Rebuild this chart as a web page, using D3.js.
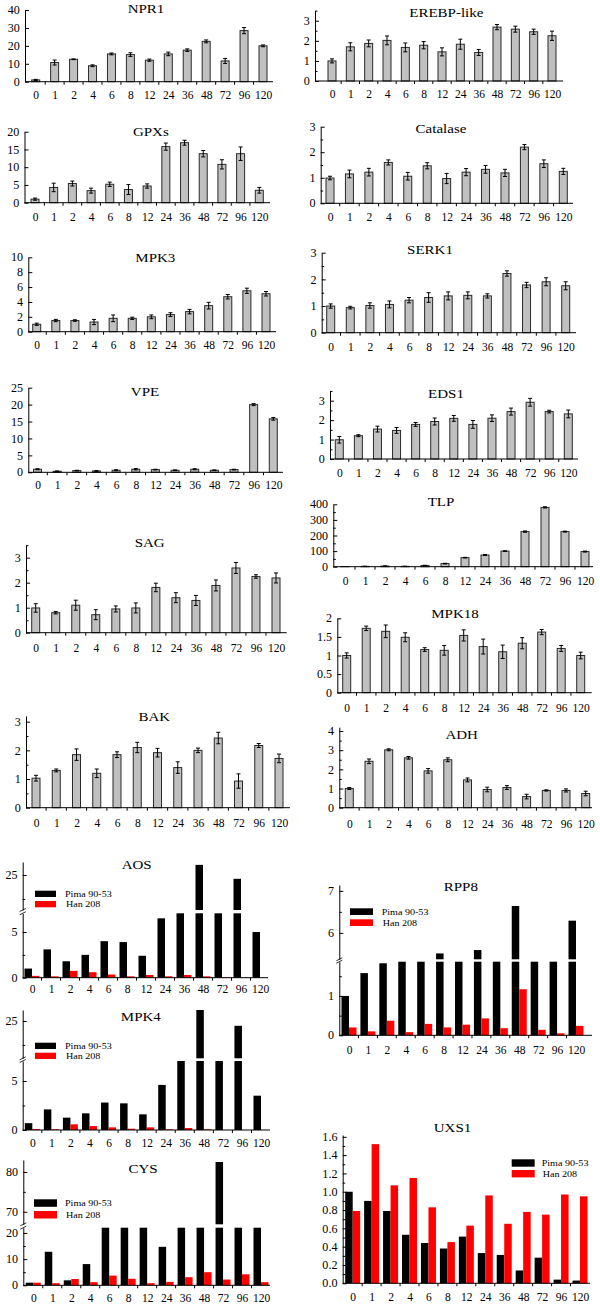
<!DOCTYPE html>
<html>
<head>
<meta charset="utf-8">
<script src="https://cdn.jsdelivr.net/npm/d3@7"></script>
<style>
body { margin: 0; background: #fff; }
text { font-family: "Liberation Serif", "Times New Roman", serif; fill: #000; }
</style>
</head>
<body>
<svg id="fig" width="600" height="1305"></svg>
<script>
// hours after inoculation
var hours = ["0", "1", "2", "4", "6", "8", "12", "24", "36", "48", "72", "96", "120"];

// relative expression (grey bar panels) and their error bars
var npr1 = [1, 10.7, 12.5, 8.9, 15.5, 15.1, 12, 15.5, 17.6, 22.5, 11.6, 28.5, 20];
var npr1Err = [0.3, 1.4, 0.2, 0.5, 0.5, 1.0, 0.6, 1.0, 0.7, 0.8, 1.4, 1.7, 0.5];
var gpxs = [1.0, 4.3, 5.4, 3.4, 5.2, 3.7, 4.7, 15.8, 16.9, 13.8, 10.8, 13.8, 3.5];
var gpxsErr = [0.3, 1.2, 0.7, 0.7, 0.6, 1.4, 0.6, 1.0, 0.7, 0.9, 1.3, 1.9, 0.8];
var mpk3 = [1.0, 1.5, 1.5, 1.3, 1.8, 1.8, 2.0, 2.3, 2.7, 3.5, 4.7, 5.5, 5.1];
var mpk3Err = [0.15, 0.15, 0.1, 0.35, 0.45, 0.15, 0.25, 0.25, 0.3, 0.45, 0.3, 0.35, 0.3];
var vpe = [0.9, 0.3, 0.5, 0.4, 0.6, 0.9, 0.8, 0.6, 0.9, 0.6, 0.8, 20, 15.8];
var vpeErr = [0.15, 0.1, 0.1, 0.1, 0.15, 0.2, 0.1, 0.1, 0.15, 0.1, 0.1, 0.3, 0.4];
var sag = [0.99, 0.8, 1.1, 0.72, 0.95, 0.99, 1.81, 1.4, 1.29, 1.89, 2.59, 2.25, 2.19];
var sagErr = [0.17, 0.05, 0.2, 0.2, 0.12, 0.2, 0.17, 0.2, 0.2, 0.22, 0.22, 0.07, 0.2];
var bak = [1.03, 1.3, 1.85, 1.2, 1.85, 2.1, 1.92, 1.4, 2.0, 2.43, 0.93, 2.17, 1.72];
var bakErr = [0.1, 0.05, 0.2, 0.15, 0.1, 0.18, 0.15, 0.2, 0.08, 0.2, 0.25, 0.07, 0.15];
var erebp = [1.0, 1.7, 1.87, 2.02, 1.67, 1.78, 1.45, 1.83, 1.42, 2.68, 2.58, 2.45, 2.25];
var erebpErr = [0.1, 0.2, 0.17, 0.22, 0.22, 0.18, 0.2, 0.25, 0.15, 0.13, 0.15, 0.13, 0.23];
var catalase = [0.99, 1.15, 1.22, 1.6, 1.06, 1.47, 0.97, 1.22, 1.33, 1.19, 2.2, 1.55, 1.25];
var catalaseErr = [0.07, 0.15, 0.15, 0.1, 0.15, 0.12, 0.2, 0.14, 0.15, 0.14, 0.1, 0.15, 0.12];
var serk1 = [1.0, 0.94, 1.02, 1.06, 1.22, 1.32, 1.38, 1.4, 1.38, 2.22, 1.79, 1.91, 1.76];
var serk1Err = [0.08, 0.05, 0.1, 0.13, 0.1, 0.18, 0.15, 0.13, 0.08, 0.1, 0.1, 0.15, 0.15];
var eds1 = [0.99, 1.2, 1.54, 1.47, 1.78, 1.93, 2.09, 1.78, 2.1, 2.44, 2.92, 2.44, 2.32];
var eds1Err = [0.17, 0.05, 0.15, 0.15, 0.1, 0.18, 0.15, 0.2, 0.17, 0.18, 0.2, 0.07, 0.2];
var tlp = [1, 2, 4, 2, 8, 20, 58, 75, 100, 225, 380, 225, 97];
var tlpErr = [0, 1, 1, 1, 1, 2, 2, 3, 2, 4, 4, 3, 3];
var mpk18 = [1.0, 1.73, 1.65, 1.49, 1.16, 1.14, 1.54, 1.24, 1.1, 1.33, 1.63, 1.19, 1.0];
var mpk18Err = [0.07, 0.06, 0.17, 0.12, 0.05, 0.13, 0.15, 0.2, 0.18, 0.15, 0.07, 0.08, 0.09];
var adh = [1.0, 2.42, 3.02, 2.6, 1.92, 2.5, 1.45, 0.95, 1.05, 0.58, 0.9, 0.9, 0.74];
var adhErr = [0.05, 0.12, 0.05, 0.07, 0.12, 0.1, 0.1, 0.12, 0.1, 0.12, 0.03, 0.08, 0.12];

// two cultivars (black / red panels)
var aosPima = [1.0, 3.1, 1.8, 2.5, 4.0, 3.9, 2.4, 6.5, 12, 27.1, 12, 24.2, 5.0];
var aosHan = [0.2, 0.15, 0.75, 0.6, 0.35, 0.15, 0.3, 0.15, 0.3, 0.15, 0.05, 0.03, 0];
var mpk4Pima = [0.7, 2.1, 1.26, 1.7, 2.8, 2.72, 1.6, 4.6, 12, 27.3, 12, 24.0, 3.5];
var mpk4Han = [0.1, 0.07, 0.58, 0.4, 0.27, 0.13, 0.27, 0.07, 0.2, 0.07, 0, 0, 0];
var cysPima = [1.0, 12.8, 1.9, 8.1, 40, 40, 40, 14.7, 40, 40, 82.5, 40, 40];
var cysHan = [1.0, 0.8, 2.4, 1.2, 3.7, 2.5, 0.8, 1.3, 3.1, 5.0, 2.2, 4.2, 1.2];
var rpp8Pima = [1.0, 1.58, 1.83, 3, 3, 5.51, 3, 5.59, 3, 6.64, 3, 3, 6.29];
var rpp8Han = [0.2, 0.1, 0.37, 0.08, 0.29, 0.2, 0.27, 0.43, 0.18, 1.17, 0.14, 0.05, 0.24];
var uxs1Pima = [1.0, 0.9, 0.79, 0.53, 0.44, 0.38, 0.51, 0.33, 0.31, 0.14, 0.28, 0.04, 0.03];
var uxs1Han = [0.79, 1.52, 1.07, 1.15, 0.83, 0.45, 0.63, 0.96, 0.65, 0.78, 0.75, 0.97, 0.95];

var cultivars = ["Pima 90-53", "Han 208"];
var cultivarColors = ["#000000", "#ff0000"];

var serif = '"Liberation Serif","Times New Roman",serif';
var svg = d3.select("#fig");

var half = [0.5, 1.5, 2.5, 3.5];

var greyPanels = [
  {title: "NPR1", v: npr1, e: npr1Err, ax: 25, xEnd: 273, c0: 35.7, c1: 263, y0: 81.7, ymax: 40, yPx: 10, top: 40, ticks: [0, 10, 20, 30, 40], minor: [], tx: 146, ty: 12.7, ly: 95},
  {title: "GPXs", v: gpxs, e: gpxsErr, ax: 24.5, xEnd: 270, c0: 35, c1: 259.3, y0: 202.7, ymax: 20, yPx: 131.7, top: 20, ticks: [0, 5, 10, 15, 20], minor: [], tx: 150.8, ty: 136.3, ly: 217},
  {title: "MPK3", v: mpk3, e: mpk3Err, ax: 28.3, xEnd: 276, c0: 36.7, c1: 266, y0: 331.7, ymax: 10, yPx: 257.3, top: 10, ticks: [0, 2, 4, 6, 8, 10], minor: [], tx: 155.3, ty: 262, ly: 345},
  {title: "VPE", v: vpe, e: vpeErr, ax: 28.3, xEnd: 283, c0: 37.5, c1: 273.3, y0: 472.3, ymax: 25, yPx: 387.7, top: 25, ticks: [0, 5, 10, 15, 20, 25], minor: [], tx: 145, ty: 396, ly: 485},
  {title: "SAG", v: sag, e: sagErr, ax: 26, xEnd: 286.7, c0: 35.7, c1: 276, y0: 632.7, ymax: 3, yPx: 557.7, top: 3.5, ticks: [0, 1, 2, 3], minor: half, tx: 149.7, ty: 547.3, ly: 648.3},
  {title: "BAK", v: bak, e: bakErr, ax: 26, xEnd: 290, c0: 36, c1: 279, y0: 807.7, ymax: 3, yPx: 721.7, top: 3.2, ticks: [0, 1, 2, 3], minor: [0.5, 1.5, 2.5], tx: 154.3, ty: 720.7, ly: 822.7},
  {title: "EREBP-like", v: erebp, e: erebpErr, ax: 315, xEnd: 563, c0: 332, c1: 552, y0: 81, ymax: 3, yPx: 20.7, top: 3.5, ticks: [0, 1, 2, 3], minor: half, tx: 446.3, ty: 17.3, ly: 94},
  {title: "Catalase", v: catalase, e: catalaseErr, ax: 320.7, xEnd: 573, c0: 330, c1: 563.3, y0: 203.3, ymax: 3, yPx: 126.7, top: 3, ticks: [0, 1, 2, 3], minor: [0.5, 1.5, 2.5], tx: 441, ty: 133.3, ly: 216.7},
  {title: "SERK1", v: serk1, e: serk1Err, ax: 321.7, xEnd: 576, c0: 330.7, c1: 565.7, y0: 332.7, ymax: 3, yPx: 252.7, top: 3, ticks: [0, 1, 2, 3], minor: [0.5, 1.5, 2.5], tx: 430, ty: 254.3, ly: 346.7},
  {title: "EDS1", v: eds1, e: eds1Err, ax: 330, xEnd: 578, c0: 339.3, c1: 568.3, y0: 459, ymax: 3, yPx: 400.7, top: 3.5, ticks: [0, 1, 2, 3], minor: half, tx: 446, ty: 397.7, ly: 473},
  {title: "TLP", v: tlp, e: tlpErr, ax: 333.3, xEnd: 593, c0: 345, c1: 585, y0: 566.7, ymax: 400, yPx: 504.3, top: 400, ticks: [0, 100, 200, 300, 400], minor: [50, 150, 250, 350], tx: 441, ty: 506, ly: 581},
  {title: "MPK18", v: mpk18, e: mpk18Err, ax: 337.3, xEnd: 591.7, c0: 346.7, c1: 580.7, y0: 692.7, ymax: 2, yPx: 618.3, top: 2, ticks: [0, 0.5, 1, 1.5, 2], minor: [], tx: 455, ty: 618.3, ly: 708.3},
  {title: "ADH", v: adh, e: adhErr, ax: 339.3, xEnd: 592, c0: 349.3, c1: 585.7, y0: 807.7, ymax: 4, yPx: 731, top: 4.2, ticks: [0, 1, 2, 3, 4], minor: half, tx: 461.7, ty: 739.3, ly: 824.3}
];

var pairPanels = [
  {title: "AOS", a: aosPima, b: aosHan, ax: 22.7, xEnd: 268, c0: 32, c1: 260, tx: 136.7, ty: 869.3, ly: 989.3,
   low: {dom: [0, 7.05], rng: [977.7, 913.3], ticks: [0, 5], minor: [2.5]},
   up: {dom: [17.7, 27.7], rng: [910, 862], ticks: [25], minor: [20]},
   leg: {x: 35, y: 890.7, w: 21, h: 6.3, gap: 10.3, tx: 65}},
  {title: "MPK4", a: mpk4Pima, b: mpk4Han, ax: 22.7, xEnd: 270, c0: 32.3, c1: 261, tx: 140.8, ty: 1020.7, ly: 1143,
   low: {dom: [0, 7.04], rng: [1130, 1061], ticks: [0, 5], minor: [2.5]},
   up: {dom: [17.2, 27.3], rng: [1058.3, 1010], ticks: [25], minor: [20]},
   leg: {x: 35, y: 1042.7, w: 21, h: 6.3, gap: 10, tx: 65}},
  {title: "CYS", a: cysPima, b: cysHan, ax: 23.3, xEnd: 270, c0: 33.3, c1: 261, tx: 143, ty: 1173.3, ly: 1298,
   low: {dom: [0, 22], rng: [1285.3, 1227.7], ticks: [0, 10, 20], minor: [5, 15]},
   up: {dom: [66.85, 83], rng: [1224.3, 1160], ticks: [70, 80], minor: [75]},
   leg: {x: 34, y: 1199.3, w: 23, h: 7.5, gap: 11.7, tx: 65}},
  {title: "RPP8", a: rpp8Pima, b: rpp8Han, ax: 339.3, xEnd: 592, c0: 349, c1: 576, tx: 460.8, ty: 890.7, ly: 1050,
   low: {dom: [0, 1.87], rng: [1035.3, 961.7], ticks: [0, 1], minor: [0.5, 1.5]},
   up: {dom: [5.37, 7.14], rng: [959.3, 885], ticks: [6, 7], minor: [6.5]},
   leg: {x: 350, y: 908.3, w: 23, h: 6.7, gap: 11, tx: 381.7}},
  {title: "UXS1", a: uxs1Pima, b: uxs1Han, ax: 342.7, xEnd: 590, c0: 352.7, c1: 580, tx: 452.5, ty: 1132.3, ly: 1297, fmt: ".1f",
   low: {dom: [0, 1.62], rng: [1283.3, 1135], ticks: [0, 0.2, 0.4, 0.6, 0.8, 1.0, 1.2, 1.4, 1.6], minor: [0.1, 0.3, 0.5, 0.7, 0.9, 1.1, 1.3, 1.5]},
   up: null,
   leg: {x: 511.7, y: 1159.3, w: 23, h: 7.4, gap: 10.7, tx: 541.7}}
];

function stretch(sel, size, sx) {
  sel.attr("font-family", serif);
  sel.selectAll("text").attr("transform", "scale(" + sx + ",1)").attr("font-size", size);
}

function title(g, p) {
  g.append("text")
    .attr("transform", "translate(" + p.tx + "," + p.ty + ") scale(1.2,1)")
    .attr("text-anchor", "middle")
    .attr("font-size", 12.5)
    .text(p.title);
}

function leftAxis(g, y, ax, ticks, minor, fmt) {
  var a = g.append("g").attr("transform", "translate(" + ax + ",0)")
    .call(d3.axisLeft(y).tickValues(ticks).tickSizeInner(-4).tickSizeOuter(0).tickPadding(5)
      .tickFormat(fmt ? d3.format(fmt) : function(d) { return String(d); }));
  stretch(a, 11.5, 1.05);
  if (minor.length) {
    var m = g.append("g").attr("transform", "translate(" + ax + ",0)")
      .call(d3.axisLeft(y).tickValues(minor).tickSize(-2.5).tickFormat(""));
    m.select(".domain").remove();
  }
}

function bottomAxis(g, x, p, y0) {
  g.append("line").attr("x1", p.ax).attr("x2", p.xEnd).attr("y1", y0).attr("y2", y0)
    .attr("stroke", "#000");
  var step = x.step();
  g.selectAll("line.xt").data(hours.slice(1)).enter().append("line")
    .attr("class", "xt")
    .attr("x1", function(d) { return x(d) - step / 2; })
    .attr("x2", function(d) { return x(d) - step / 2; })
    .attr("y1", y0).attr("y2", y0 + 3)
    .attr("stroke", "#000");
  var a = g.append("g").attr("transform", "translate(0," + y0 + ")")
    .call(d3.axisBottom(x).tickSize(0).tickPadding(p.ly - y0 - 4.2));
  a.select(".domain").remove();
  stretch(a, 11.5, 1.0);
}

// grey bars with error bars
greyPanels.forEach(function(p) {
  var g = svg.append("g");
  var x = d3.scalePoint().domain(hours).range([p.c0, p.c1]);
  var k = (p.yPx - p.y0) / p.ymax;
  var y = d3.scaleLinear().domain([0, p.top]).range([p.y0, p.y0 + k * p.top]);

  var rows = p.v.map(function(d, i) { return {h: hours[i], v: d, e: p.e[i]}; });

  g.selectAll("rect").data(rows).enter().append("rect")
    .attr("x", function(d) { return x(d.h) - 4; })
    .attr("width", 8)
    .attr("y", function(d) { return y(d.v); })
    .attr("height", function(d) { return y(0) - y(d.v); })
    .attr("fill", "#c0c0c0")
    .attr("stroke", "#2a2a2a")
    .attr("stroke-width", 1);

  var eb = g.selectAll("g.err").data(rows.filter(function(d) { return d.e > 0; })).enter()
    .append("g").attr("class", "err").attr("stroke", "#000").attr("stroke-width", 1);
  eb.append("line")
    .attr("x1", function(d) { return x(d.h); }).attr("x2", function(d) { return x(d.h); })
    .attr("y1", function(d) { return y(d.v - d.e); }).attr("y2", function(d) { return y(d.v + d.e); });
  [1, -1].forEach(function(s) {
    eb.append("line")
      .attr("x1", function(d) { return x(d.h) - 2; }).attr("x2", function(d) { return x(d.h) + 2; })
      .attr("y1", function(d) { return y(d.v + s * d.e); }).attr("y2", function(d) { return y(d.v + s * d.e); });
  });

  leftAxis(g, y, p.ax, p.ticks, p.minor);
  bottomAxis(g, x, p, p.y0);
  title(g, p);
});

// black/red pairs, most with a broken value axis
pairPanels.forEach(function(p) {
  var g = svg.append("g");
  var x = d3.scalePoint().domain(hours).range([p.c0, p.c1]);
  var yl = d3.scaleLinear().domain(p.low.dom).range(p.low.rng);
  var yu = p.up ? d3.scaleLinear().domain(p.up.dom).range(p.up.rng) : null;
  var w = 7.5;

  var pieces = [];
  [p.a, p.b].forEach(function(arr, s) {
    arr.forEach(function(v, i) {
      var xl = s === 0 ? x(hours[i]) - w : x(hours[i]);
      var lo = Math.min(v, p.low.dom[1]);
      pieces.push({x: xl, y1: yl(0), y2: yl(lo), c: cultivarColors[s]});
      if (yu && v > p.up.dom[0]) {
        pieces.push({x: xl, y1: yu(p.up.dom[0]), y2: yu(v), c: cultivarColors[s]});
      }
    });
  });

  g.selectAll("rect.bar").data(pieces).enter().append("rect")
    .attr("class", "bar")
    .attr("x", function(d) { return d.x; })
    .attr("width", w)
    .attr("y", function(d) { return d.y2; })
    .attr("height", function(d) { return Math.max(0, d.y1 - d.y2); })
    .attr("fill", function(d) { return d.c; });

  leftAxis(g, yl, p.ax, p.low.ticks, p.low.minor, p.fmt);
  if (yu) {
    leftAxis(g, yu, p.ax, p.up.ticks, p.up.minor, p.fmt);
    // break marks
    [p.low.rng[1], p.up.rng[0]].forEach(function(yy) {
      g.append("line").attr("x1", p.ax - 3).attr("x2", p.ax + 3)
        .attr("y1", yy + 1.5).attr("y2", yy - 1.5)
        .attr("stroke", "#000").attr("stroke-width", 0.8);
    });
  }
  bottomAxis(g, x, p, p.low.rng[0]);
  title(g, p);

  var lg = g.selectAll("g.leg").data(cultivars).enter().append("g").attr("class", "leg");
  lg.append("rect")
    .attr("x", p.leg.x)
    .attr("y", function(d, i) { return p.leg.y + i * p.leg.gap; })
    .attr("width", p.leg.w).attr("height", p.leg.h)
    .attr("fill", function(d, i) { return cultivarColors[i]; });
  lg.append("text")
    .attr("transform", function(d, i) {
      return "translate(" + (p.leg.tx + (i ? 1 : 0)) + "," + (p.leg.y + i * p.leg.gap + p.leg.h / 2 + 3.2) + ") scale(1.12,1)";
    })
    .attr("font-size", 9)
    .text(function(d) { return d; });
});
</script>
</body>
</html>
